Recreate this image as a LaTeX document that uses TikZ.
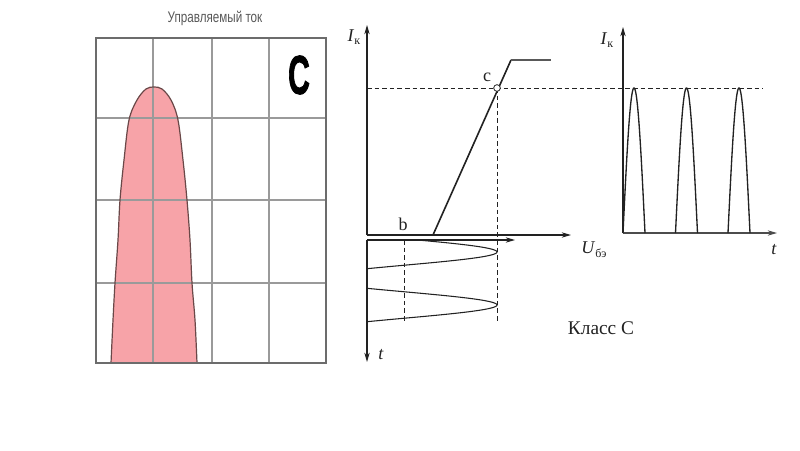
\documentclass[tikz,border=0pt]{standalone}
\usepackage{fontspec}
\setmainfont{Liberation Serif}
\newfontfamily\arialf{Liberation Sans}
\newfontfamily\heavyf[FakeBold=2]{Liberation Sans Bold}
\usetikzlibrary{arrows.meta}
\definecolor{pinkfill}{HTML}{F7A3A8}
\definecolor{pinkline}{HTML}{6A4848}
\definecolor{gridgray}{HTML}{9A9A9A}
\definecolor{inkc}{HTML}{222222}
\begin{document}
\begin{tikzpicture}[x=0.75pt,y=-0.75pt,
  axisline/.style={draw=inkc, line width=0.8pt, -{Stealth[length=7pt,width=4pt]}},
  gridline/.style={draw=gridgray, line width=1.1pt},
  frameline/.style={draw=gray!85!black, line width=1.6pt},
  dashline/.style={draw=inkc, line width=0.7pt, dash pattern=on 3.5pt off 2.2pt},
  curveline/.style={draw=inkc, line width=0.8pt},
  lbl/.style={font=\fontsize{13.5}{14}\selectfont, inner sep=0pt, text=inkc}]
\useasboundingbox (0,0) rectangle (800,450);
\fill[white] (0,0) rectangle (800,450);

% ---------- left panel ----------
\node[font=\arialf\fontsize{11.5}{12}\selectfont, text=gray!70!black, xscale=0.76, inner sep=0pt, anchor=base] (title) at (215,22.7) {Управляемый ток};
\fill[pinkfill] plot[smooth, tension=0.55] coordinates {
  (111,363) (113,320) (115,283) (118,240) (120,200) (124,160) (129,120) (137,100) (146,89) (154,87)
  (162,89) (171,100) (178,120) (183,160) (187,200) (190,240) (192,283) (195,320) (197,363)} -- cycle;
\foreach \gx in {153,212,269} \draw[gridline] (\gx,38) -- (\gx,363);
\foreach \gy in {118,200,283} \draw[gridline] (96,\gy) -- (326,\gy);
\draw[pinkline, line width=0.9pt] plot[smooth, tension=0.55] coordinates {
  (111,363) (113,320) (115,283) (118,240) (120,200) (124,160) (129,120) (137,100) (146,89) (154,87)
  (162,89) (171,100) (178,120) (183,160) (187,200) (190,240) (192,283) (195,320) (197,363)};
\draw[frameline] (96,38) rectangle (326,363);
\node[font=\heavyf\fontsize{41}{41}\selectfont, xscale=0.55, inner sep=0pt] (bigc) at (299,75) {C};

% ---------- middle panel ----------
\coordinate (o1) at (367,235);
\coordinate (o2) at (367,240);
\draw[axisline] (o1) -- (367,25);
\draw[axisline] (o1) -- (571,235);
\draw[axisline] (o2) -- (515,240);
\draw[axisline] (o2) -- (367,362);
\node[lbl] (ik1) at (354,37) {\textit{I}\raisebox{-0.45ex}{\fontsize{9}{9}\selectfont к}};
\node[lbl] (ube) at (594,250) {\textit{U}\raisebox{-0.5ex}{\fontsize{9}{9}\selectfont бэ}};
\node[lbl] (t1) at (381,355) {\textit{t}};
\node[lbl] (blbl) at (403,224) {b};
\node[lbl] (clbl) at (487,77) {c};

\coordinate (bstart) at (433,235);
\coordinate (ctop) at (511,60);
\coordinate (satend) at (551,60);
\draw[curveline, line width=1.2pt] (bstart) -- (ctop);
\draw[draw=gray!70!black, line width=1pt] (ctop) -- (satend);

\draw[dashline] (367,88) -- (763,88);
\draw[dashline] (497,88) -- (497,322);
\draw[dashline] (404,240) -- (404,322);
\node[circle, draw=inkc, fill=white, line width=0.6pt, minimum size=5pt, inner sep=0pt] (cpt) at (497,88) {};

\begin{scope}
  \clip (367.6,238) rectangle (520,330);
  \draw[curveline] plot[domain=240:322, samples=200, variable=\s] ({404+93*cos(6.7925*(\s-252))},\s);
\end{scope}

\node[font=\fontsize{14.5}{15}\selectfont, inner sep=0pt, text=inkc] (klass) at (601,328) {Класс С};

% ---------- right panel ----------
\coordinate (o3) at (623,233);
\draw[axisline] (o3) -- (623,27);
\draw[axisline, draw=gray!60!black] (o3) -- (777,233);
\node[lbl] (ik2) at (607,40) {\textit{I}\raisebox{-0.45ex}{\fontsize{9}{9}\selectfont к}};
\node[lbl] (t2) at (774,250) {\textit{t}};
\foreach \c in {634,686.5,739}
  \draw[curveline, line width=1pt] plot[domain=-90:90, samples=60, variable=\p] ({\c+11*\p/90},{233-145*cos(\p)});
\end{tikzpicture}
\end{document}
